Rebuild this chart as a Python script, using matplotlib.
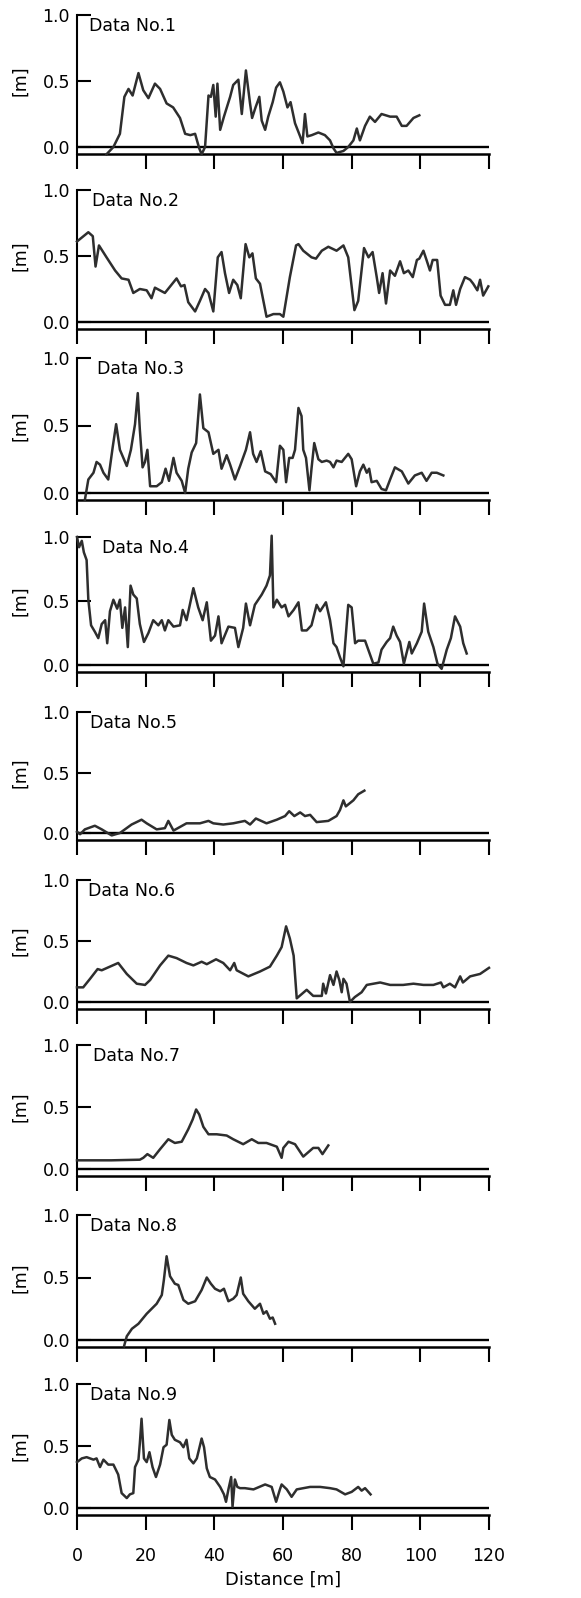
import matplotlib
matplotlib.use("Agg")
from matplotlib import pyplot as plt

plt.rcParams['font.family'] = ['DejaVu Sans']
plt.rcParams['axes.linewidth'] = 1.6

# distance [m] / height [m]
x1 = [8.6, 10.6, 12.5, 13.8, 15.0, 16.2, 17.9, 19.3, 20.8, 22.7, 24.2, 26.1, 28.0, 30.0, 31.5, 33.0, 34.4, 35.6, 36.3, 37.3,
      38.3, 39.0, 39.7, 40.4, 40.9, 41.7, 42.8, 44.6, 45.5, 47.0, 48.0, 49.2, 50.4, 51.0, 52.0, 53.1, 53.8, 54.8, 55.7, 57.0,
      58.0, 59.1, 60.1, 61.3, 62.2, 63.5, 65.0, 65.7, 66.4, 67.1, 68.4, 70.3, 72.2, 73.7, 74.7, 75.6, 77.6, 79.0, 80.5, 81.5,
      82.4, 83.9, 85.3, 86.8, 88.7, 91.2, 93.1, 94.6, 96.0, 98.0, 99.7]
y1 = [-0.055, 0.0, 0.10, 0.38, 0.44, 0.39, 0.56, 0.43, 0.37, 0.48, 0.44, 0.33, 0.30, 0.22, 0.10, 0.09, 0.10, -0.01, -0.055, 0.0,
      0.39, 0.38, 0.47, 0.23, 0.48, 0.13, 0.23, 0.38, 0.47, 0.51, 0.25, 0.58, 0.33, 0.22, 0.30, 0.38, 0.20, 0.13, 0.23, 0.34,
      0.45, 0.49, 0.42, 0.30, 0.34, 0.18, 0.08, 0.03, 0.25, 0.08, 0.09, 0.11, 0.09, 0.05, -0.01, -0.045, -0.03, 0.0, 0.05, 0.14,
      0.05, 0.16, 0.23, 0.19, 0.25, 0.23, 0.23, 0.16, 0.16, 0.22, 0.24]

x2 = [0.0, 3.3, 4.6, 5.4, 6.4, 8.6, 11.1, 13.0, 15.0, 16.4, 18.3, 20.3, 21.7, 22.7, 25.6, 29.0, 30.3, 31.3, 32.4, 34.4,
      35.8, 37.3, 38.3, 39.7, 41.0, 42.1, 43.1, 44.3, 45.5, 46.7, 47.7, 49.1, 50.2, 51.1, 52.1, 53.3, 55.2, 57.2, 59.1, 60.1,
      62.0, 63.8, 64.5, 65.9, 68.3, 69.6, 71.3, 73.2, 75.6, 77.6, 79.0, 80.8, 81.9, 83.6, 84.9, 86.1, 87.3, 88.0, 89.0, 90.0,
      91.2, 92.6, 94.1, 95.2, 96.5, 97.8, 99.0, 99.7, 100.9, 101.8, 102.8, 103.6, 104.9, 105.9, 107.2, 108.6, 109.6, 110.4,
      111.6, 113.0, 114.5, 115.4, 116.6, 117.4, 118.3, 119.8]
y2 = [0.61, 0.68, 0.65, 0.42, 0.58, 0.49, 0.39, 0.33, 0.32, 0.22, 0.25, 0.24, 0.18, 0.26, 0.22, 0.33, 0.27, 0.28, 0.15, 0.08,
      0.16, 0.25, 0.22, 0.08, 0.49, 0.53, 0.37, 0.22, 0.32, 0.28, 0.18, 0.59, 0.49, 0.52, 0.33, 0.29, 0.04, 0.06, 0.06, 0.04,
      0.34, 0.58, 0.59, 0.54, 0.49, 0.48, 0.54, 0.57, 0.54, 0.58, 0.49, 0.09, 0.16, 0.56, 0.49, 0.53, 0.34, 0.22, 0.37, 0.14,
      0.39, 0.35, 0.46, 0.37, 0.39, 0.34, 0.47, 0.48, 0.54, 0.47, 0.39, 0.47, 0.47, 0.20, 0.13, 0.13, 0.24, 0.13,
      0.25, 0.34, 0.32, 0.29, 0.24, 0.32, 0.20, 0.27]

x3 = [2.3, 3.3, 4.8, 5.7, 6.7, 7.7, 9.1, 10.4, 11.4, 12.5, 14.5, 15.7, 16.9, 17.7, 18.3, 19.1, 19.8, 20.5, 21.3, 23.2,
      24.7, 25.8, 26.8, 28.1, 29.0, 30.5, 31.5, 32.4, 33.4, 34.7, 35.8, 36.8, 38.3, 39.7, 41.2, 42.1, 43.6, 44.6, 46.0, 47.5,
      49.2, 50.4, 51.3, 52.3, 53.5, 54.8, 56.4, 58.0, 59.1, 60.1, 60.9, 61.8, 62.8, 63.5, 64.5, 65.4, 65.9, 66.7, 67.7, 68.3,
      69.1, 70.3, 71.3, 72.7, 73.7, 74.7, 75.6, 77.1, 79.0, 80.0, 81.3, 82.4, 83.4, 84.4, 85.1, 85.8, 87.3, 88.7, 90.0, 91.2,
      92.6, 94.6, 96.5, 98.4, 100.4, 101.8, 103.3, 104.8, 106.7]
y3 = [-0.05, 0.10, 0.15, 0.23, 0.21, 0.15, 0.10, 0.34, 0.51, 0.32, 0.20, 0.32, 0.51, 0.74, 0.47, 0.19, 0.23, 0.32, 0.05, 0.05,
      0.08, 0.18, 0.09, 0.26, 0.15, 0.09, 0.0, 0.18, 0.30, 0.37, 0.73, 0.48, 0.45, 0.29, 0.32, 0.18, 0.28, 0.21, 0.10, 0.20,
      0.32, 0.45, 0.29, 0.23, 0.31, 0.16, 0.14, 0.08, 0.35, 0.32, 0.08, 0.26, 0.26, 0.32, 0.63, 0.57, 0.32, 0.26, 0.02, 0.18,
      0.37, 0.25, 0.23, 0.24, 0.23, 0.19, 0.24, 0.23, 0.29, 0.25, 0.05, 0.16, 0.21, 0.15, 0.18, 0.08, 0.09, 0.03, 0.02, 0.10,
      0.19, 0.16, 0.07, 0.13, 0.15, 0.09, 0.15, 0.15, 0.13]

x4 = [0.0, 0.6, 1.4, 2.0, 2.8, 3.3, 4.1, 5.2, 6.2, 7.2, 8.2, 8.8, 9.6, 10.6, 11.7, 12.5, 13.2, 14.0, 14.8, 15.6,
      16.4, 17.4, 18.3, 19.5, 20.8, 22.2, 23.7, 24.7, 25.6, 26.6, 28.1, 30.0, 30.8, 31.9, 33.9, 35.3, 36.6, 37.8, 39.0, 40.2,
      41.2, 42.1, 44.1, 46.0, 47.0, 48.4, 49.2, 50.4, 51.8, 53.8, 55.2, 56.2, 56.7, 57.2, 58.2, 59.6, 60.6, 61.6, 63.1, 64.5,
      65.5, 66.9, 68.3, 69.8, 70.8, 72.5, 73.7, 74.7, 75.6, 76.6, 77.6, 78.5, 79.0, 80.0, 81.0, 81.9, 83.9, 86.3, 87.8, 88.7,
      90.2, 91.2, 92.1, 93.1, 94.1, 95.2, 96.8, 97.5, 99.0, 100.4, 101.1, 102.3, 103.8, 105.0, 106.2, 107.7, 108.9, 110.1,
      111.6, 112.5, 113.5]
y4 = [1.0, 0.92, 0.97, 0.88, 0.82, 0.51, 0.31, 0.26, 0.21, 0.32, 0.35, 0.17, 0.42, 0.51, 0.44, 0.51, 0.29, 0.45, 0.14, 0.62,
      0.55, 0.52, 0.32, 0.18, 0.25, 0.35, 0.31, 0.35, 0.27, 0.35, 0.30, 0.31, 0.43, 0.35, 0.60, 0.45, 0.35, 0.49, 0.19, 0.23,
      0.38, 0.17, 0.30, 0.29, 0.14, 0.29, 0.48, 0.31, 0.47, 0.55, 0.62, 0.70, 1.01, 0.45, 0.51, 0.45, 0.47, 0.38, 0.43, 0.49,
      0.27, 0.27, 0.31, 0.47, 0.42, 0.49, 0.35, 0.17, 0.14, 0.06, -0.01, 0.30, 0.47, 0.45, 0.17, 0.19, 0.19, 0.01, 0.02, 0.12,
      0.18, 0.21, 0.30, 0.23, 0.18, 0.01, 0.18, 0.09, 0.17, 0.26, 0.48, 0.26, 0.14, 0.01, -0.03, 0.12, 0.21, 0.38,
      0.30, 0.17, 0.09]

x5 = [0.0, 0.9, 2.3, 5.2, 7.2, 10.1, 12.5, 15.9, 18.8, 20.3, 23.2, 25.6, 26.6, 28.1, 31.9, 35.8, 38.3, 39.7, 42.6, 45.5,
      48.9, 50.4, 52.1, 55.2, 58.2, 60.6, 61.8, 63.3, 65.0, 66.4, 67.9, 69.8, 73.2, 75.6, 76.6, 77.6, 78.3, 80.5, 81.9, 83.7]
y5 = [0.01, -0.01, 0.03, 0.06, 0.03, -0.02, 0.0, 0.07, 0.11, 0.08, 0.03, 0.04, 0.10, 0.02, 0.08, 0.08, 0.10, 0.08, 0.07, 0.08,
      0.10, 0.07, 0.12, 0.08, 0.11, 0.14, 0.18, 0.14, 0.17, 0.14, 0.15, 0.09, 0.10, 0.14, 0.19, 0.27, 0.22, 0.27, 0.32, 0.35]

x6 = [0.0, 1.8, 3.8, 6.0, 7.2, 9.6, 12.0, 14.5, 17.4, 19.8, 21.3, 24.2, 26.6, 29.0, 31.9, 33.9, 36.3, 37.8, 40.5, 42.6,
      44.6, 45.8, 46.5, 49.9, 53.3, 56.2, 58.2, 59.6, 60.9, 62.0, 63.1, 64.0, 66.9, 68.8, 71.3, 71.7, 72.5, 73.7, 74.7, 75.6,
      76.4, 77.1, 77.6, 78.5, 79.5, 80.9, 82.9, 84.4, 88.3, 91.2, 95.0, 98.0, 100.9, 103.8, 106.0, 106.7, 108.6, 110.1,
      111.6, 112.4, 114.5, 117.4, 120.0]
y6 = [0.12, 0.12, 0.19, 0.27, 0.26, 0.29, 0.32, 0.23, 0.15, 0.14, 0.18, 0.30, 0.38, 0.36, 0.32, 0.30, 0.33, 0.31, 0.35, 0.32,
      0.26, 0.32, 0.26, 0.21, 0.25, 0.29, 0.38, 0.45, 0.62, 0.52, 0.38, 0.03, 0.10, 0.05, 0.05, 0.15, 0.07, 0.22, 0.14, 0.25,
      0.18, 0.08, 0.19, 0.15, 0.0, 0.04, 0.08, 0.14, 0.16, 0.14, 0.14, 0.15, 0.14, 0.14, 0.16, 0.12, 0.15, 0.12,
      0.21, 0.16, 0.21, 0.23, 0.28]

x7 = [0.0, 10.0, 18.3, 19.3, 20.5, 22.2, 24.2, 26.6, 28.5, 30.5, 32.4, 33.7, 34.7, 35.6, 36.8, 38.3, 40.7, 43.6, 45.5, 48.4,
      50.9, 52.8, 55.2, 58.2, 59.6, 60.1, 61.6, 63.5, 65.9, 68.8, 70.3, 71.5, 73.2]
y7 = [0.07, 0.07, 0.075, 0.09, 0.12, 0.09, 0.16, 0.24, 0.21, 0.22, 0.32, 0.40, 0.48, 0.44, 0.34, 0.28, 0.28, 0.27, 0.24, 0.20,
      0.24, 0.21, 0.21, 0.18, 0.09, 0.17, 0.22, 0.20, 0.10, 0.17, 0.17, 0.12, 0.19]

x8 = [13.7, 14.5, 16.0, 17.9, 20.3, 23.2, 24.7, 25.3, 26.1, 27.1, 28.5, 29.5, 31.0, 32.4, 34.4, 36.3, 37.8, 39.0, 40.2, 41.7,
      42.8, 44.1, 45.5, 46.5, 47.7, 48.4, 49.9, 51.8, 53.3, 54.3, 55.2, 56.2, 57.0, 57.7]
y8 = [-0.05, 0.03, 0.09, 0.13, 0.21, 0.29, 0.36, 0.48, 0.67, 0.51, 0.45, 0.44, 0.32, 0.29, 0.31, 0.40, 0.50, 0.45, 0.41, 0.39,
      0.41, 0.31, 0.33, 0.36, 0.50, 0.37, 0.31, 0.25, 0.29, 0.21, 0.23, 0.17, 0.18, 0.13]

x9 = [0.0, 1.4, 2.8, 4.8, 5.7, 6.7, 7.7, 9.1, 10.6, 12.0, 13.0, 14.5, 15.4, 16.4, 16.9, 17.9, 18.3, 18.8, 19.5, 20.3,
      21.1, 22.0, 23.0, 24.2, 25.2, 26.1, 26.9, 27.6, 28.5, 30.0, 31.0, 31.9, 32.7, 33.9, 34.9, 36.3, 37.0, 37.8, 38.7, 40.2,
      41.7, 42.8, 43.4, 44.1, 44.9, 45.3, 46.0, 46.7, 47.5, 48.9, 51.4, 54.8, 56.7, 58.0, 59.1, 59.6, 61.1, 62.5, 64.0, 67.9,
      70.8, 73.7, 75.6, 78.1, 80.0, 81.9, 82.9, 83.9, 85.5]
y9 = [0.37, 0.40, 0.41, 0.39, 0.40, 0.33, 0.39, 0.35, 0.35, 0.27, 0.12, 0.08, 0.11, 0.12, 0.33, 0.39, 0.52, 0.72, 0.40, 0.37,
      0.45, 0.33, 0.25, 0.35, 0.49, 0.51, 0.71, 0.59, 0.55, 0.53, 0.49, 0.55, 0.40, 0.36, 0.40, 0.56, 0.49, 0.32, 0.25, 0.23,
      0.17, 0.11, 0.05, 0.15, 0.25, 0.01, 0.23, 0.17, 0.16, 0.16, 0.15, 0.19, 0.17, 0.05, 0.15, 0.19, 0.15, 0.09, 0.15, 0.17,
      0.17, 0.16, 0.15, 0.11, 0.13, 0.17, 0.14, 0.16, 0.11]

profiles = [(x1, y1), (x2, y2), (x3, y3), (x4, y4), (x5, y5), (x6, y6), (x7, y7), (x8, y8), (x9, y9)]
labels = ["Data No.%d" % (i + 1) for i in range(9)]
label_x = [3.5, 4.4, 5.8, 7.3, 3.8, 3.2, 4.7, 3.8, 3.8]
x_ticks = [0, 20, 40, 60, 80, 100, 120]

# panel layout in pixels: level of 1.0 and of 0.0 in each panel
W, H = 581, 1598
top_px = [15, 190, 358, 537, 712, 880, 1045, 1215, 1384]
zero_px = [147, 322, 493, 665, 833, 1002, 1169, 1340, 1508]

fig = plt.figure(figsize=(W / 100, H / 100), dpi=100)

for i, (xs, ys) in enumerate(profiles):
    scale = zero_px[i] - top_px[i]
    spine = zero_px[i] + 7
    ax = fig.add_axes([77 / W, 1 - spine / H, 412 / W, (spine - top_px[i]) / H])
    ax.set_xlim(0, 120)
    ax.set_ylim(-7 / scale, 1.0)
    ax.spines['top'].set_visible(False)
    ax.spines['right'].set_visible(False)
    ax.spines['left'].set_linewidth(1.5)
    ax.spines['bottom'].set_linewidth(1.8)

    ax.axhline(0, color='black', lw=1.7, zorder=2)
    ax.plot(xs, ys, color='#2e2e2e', lw=1.8, clip_on=False, zorder=3)

    ax.set_yticks([0.0, 0.5, 1.0])
    ax.set_yticklabels(['0.0', '0.5', '1.0'])
    ax.set_xticks(x_ticks)
    ax.tick_params(axis='y', direction='in', length=10, width=1.5, pad=5, labelsize=12.5)
    ax.tick_params(axis='x', direction='out', length=11, width=1.5, pad=12, labelsize=12.5,
                   labelbottom=(i == 8))

    ax.text(-16.6, 0.5, "[m]", rotation=90, ha='center', va='center', fontsize=12.5, clip_on=False)
    ax.text(label_x[i], 0.985, labels[i], ha='left', va='top', fontsize=12.5)

    if i == 8:
        ax.set_xlabel("Distance [m]", fontsize=13, labelpad=4)

plt.savefig('out.png', dpi=100)
